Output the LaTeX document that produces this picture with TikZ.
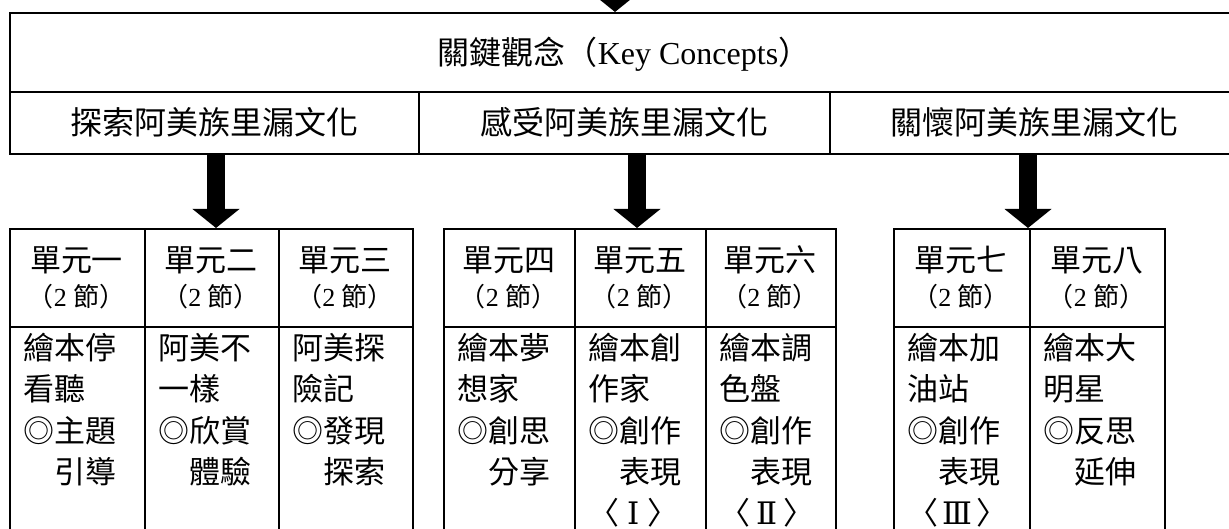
\documentclass[tikz,border=0pt]{standalone}
\usepackage{fontspec}
\setmainfont{Liberation Serif}
\newfontfamily\cjk{Noto Sans CJK TC}
\newfontfamily\rom{DejaVu Serif}
\usetikzlibrary{arrows.meta}
\newcommand\unitcell[5]{%
  \node[hcell, minimum width={#3-#2}] (h#1) at (#2,228) {};
  \node[bcell, minimum width={#3-#2}] (b#1) at (#2,326) {};
  \node[hd] (t#1) at ({(#2+#3)/2},260) {#4};
  \node[sub] (s#1) at ({(#2+#3)/2},297) {{\cjk （}2 {\cjk 節）}};
  \foreach \lin [count=\i] in {#5} \node[bd] (l#1-\i) at ({#2+14},{348+41.3*(\i-1)}) {\lin};
}
\begin{document}
\begin{tikzpicture}[x=1pt,y=-1pt,
  frame/.style={draw, line width=2pt, inner sep=0pt, anchor=north west},
  hcell/.style={frame, minimum height=98pt},
  bcell/.style={frame, minimum height=240pt},
  toptxt/.style={font=\fontsize{32}{38}\selectfont, text height=28pt, text depth=4pt},
  hd/.style={inner sep=0pt, font=\fontsize{31}{36}\cjk, text height=27pt, text depth=4pt},
  sub/.style={inner sep=0pt, font=\fontsize{26}{30}\selectfont, text height=23pt, text depth=3pt},
  bd/.style={inner sep=0pt, anchor=west, font=\fontsize{31}{36}\cjk, text height=27pt, text depth=4pt},
  bigarrow/.style={line width=18pt, -{Triangle[width=46pt,length=19pt]}}]
\useasboundingbox (0,0) rectangle (1229,529);
\clip (0,0) rectangle (1229,529);
\fill[white] (0,0) rectangle (1229,529);
% top boxes
\node[frame, toptxt, minimum width=1228pt, minimum height=79pt] (kc) at (9,12) {{\cjk 關鍵觀念（}Key Concepts{\cjk ）}};
\node[frame, toptxt, font=\fontsize{32}{38}\cjk, minimum width=409pt, minimum height=62pt] (r1) at (9,91) {探索阿美族里漏文化};
\node[frame, toptxt, font=\fontsize{32}{38}\cjk, minimum width=411pt, minimum height=62pt] (r2) at (418,91) {感受阿美族里漏文化};
\node[frame, toptxt, font=\fontsize{32}{38}\cjk, minimum width=408pt, minimum height=62pt] (r3) at (829,91) {關懷阿美族里漏文化};
% units
\unitcell{1}{9}{144}{單元一}{繪本停,看聽,◎主題,　引導}
\unitcell{2}{144}{278}{單元二}{阿美不,一樣,◎欣賞,　體驗}
\unitcell{3}{278}{412}{單元三}{阿美探,險記,◎發現,　探索}
\unitcell{4}{443}{574}{單元四}{繪本夢,想家,◎創思,　分享}
\unitcell{5}{574}{705}{單元五}{繪本創,作家,◎創作,　表現,〈\hspace{8pt}{\rom Ⅰ}\hspace{8pt}〉}
\unitcell{6}{705}{835}{單元六}{繪本調,色盤,◎創作,　表現,〈\hspace{6pt}{\rom Ⅱ}\hspace{6pt}〉}
\unitcell{7}{893}{1029}{單元七}{繪本加,油站,◎創作,　表現,〈\hspace{4pt}{\rom Ⅲ}\hspace{4pt}〉}
\unitcell{8}{1029}{1164}{單元八}{繪本大,明星,◎反思,　延伸}
% arrows
\coordinate (x0) at (615,-20);
\coordinate (x1) at (216,0);
\coordinate (x2) at (637,0);
\coordinate (x3) at (1028,0);
\draw[bigarrow] (x0) -- (kc.north -| x0);
\draw[bigarrow] (r1.south -| x1) -- (h2.north -| x1);
\draw[bigarrow] (r2.south -| x2) -- (h5.north -| x2);
\draw[bigarrow] (r3.south -| x3) -- (h7.north -| x3);
\end{tikzpicture}
\end{document}
